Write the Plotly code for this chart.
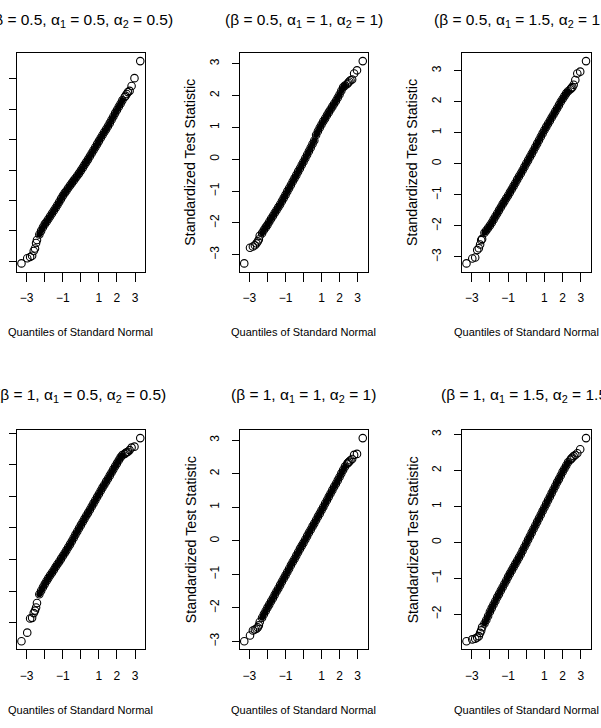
import plotly.graph_objects as go

# ---------------- data ----------------
panel_titles = [
    "(β = 0.5, α<sub>1</sub> = 0.5, α<sub>2</sub> = 0.5)",
    "(β = 0.5, α<sub>1</sub> = 1, α<sub>2</sub> = 1)",
    "(β = 0.5, α<sub>1</sub> = 1.5, α<sub>2</sub> = 1.5)",
    "(β = 1, α<sub>1</sub> = 0.5, α<sub>2</sub> = 0.5)",
    "(β = 1, α<sub>1</sub> = 1, α<sub>2</sub> = 1)",
    "(β = 1, α<sub>1</sub> = 1.5, α<sub>2</sub> = 1.5)",
]
x_label = "Quantiles of Standard Normal"
y_label = "Standardized Test Statistic"

# theoretical normal quantiles (x positions)
tail_lo_q = [-3.29, -2.97, -2.81, -2.70, -2.61, -2.54, -2.48, -2.43]
tail_hi_q = [2.43, 2.48, 2.54, 2.61, 2.70, 2.81, 2.97, 3.29]
body_q = [-2.3, -2.2, -2.1, -2.0, -1.9, -1.8, -1.7, -1.6, -1.5, -1.4, -1.3, -1.2,
          -1.1, -1.0, -0.9, -0.8, -0.7, -0.6, -0.5, -0.4, -0.3, -0.2, -0.1, 0.0,
          0.1, 0.2, 0.3, 0.4, 0.5, 0.6, 0.7, 0.8, 0.9, 1.0, 1.1, 1.2, 1.3, 1.4,
          1.5, 1.6, 1.7, 1.8, 1.9, 2.0, 2.1, 2.2, 2.3]

# sample (standardized statistic) values
p1_lo = [-3.07, -2.90, -2.86, -2.82, -2.66, -2.58, -2.40, -2.30]
p1_body = [-2.12, -2.00, -1.88, -1.78, -1.70, -1.61, -1.52, -1.43, -1.34, -1.25, -1.15, -1.05,
           -0.95, -0.85, -0.76, -0.68, -0.59, -0.51, -0.43, -0.35, -0.27, -0.19, -0.11, -0.02,
           0.07, 0.17, 0.26, 0.35, 0.45, 0.55, 0.65, 0.75, 0.85, 0.95, 1.05, 1.15, 1.25, 1.34,
           1.44, 1.54, 1.65, 1.76, 1.87, 1.97, 2.08, 2.18, 2.29]
p1_hi = [2.40, 2.44, 2.50, 2.56, 2.60, 2.76, 3.02, 3.58]

p2_lo = [-3.27, -2.78, -2.74, -2.70, -2.64, -2.58, -2.52, -2.40]
p2_body = [-2.32, -2.22, -2.14, -2.06, -1.96, -1.87, -1.78, -1.69, -1.60, -1.51, -1.42, -1.32,
           -1.22, -1.12, -1.01, -0.91, -0.81, -0.70, -0.60, -0.50, -0.39, -0.29, -0.18, -0.08,
           0.03, 0.14, 0.25, 0.36, 0.48, 0.59, 0.76, 0.88, 0.99, 1.09, 1.19, 1.28, 1.38, 1.47,
           1.56, 1.65, 1.74, 1.83, 1.93, 2.03, 2.15, 2.26, 2.31]
p2_hi = [2.36, 2.40, 2.44, 2.48, 2.50, 2.69, 2.79, 3.08]

p3_lo = [-3.21, -3.05, -3.02, -2.78, -2.72, -2.60, -2.46, -2.42]
p3_body = [-2.22, -2.15, -2.07, -1.99, -1.90, -1.80, -1.70, -1.60, -1.50, -1.40, -1.30, -1.21,
           -1.11, -1.02, -0.92, -0.82, -0.72, -0.62, -0.51, -0.41, -0.31, -0.21, -0.10, 0.01,
           0.11, 0.22, 0.32, 0.43, 0.54, 0.65, 0.76, 0.87, 0.98, 1.09, 1.19, 1.29, 1.39, 1.49,
           1.59, 1.69, 1.79, 1.89, 2.00, 2.09, 2.18, 2.27, 2.34]
p3_hi = [2.40, 2.44, 2.47, 2.55, 2.70, 2.91, 2.97, 3.31]

p4_lo = [-3.59, -3.32, -2.87, -2.85, -2.70, -2.62, -2.52, -2.38]
p4_body = [-2.10, -1.99, -1.88, -1.78, -1.68, -1.59, -1.50, -1.42, -1.33, -1.24, -1.15, -1.07,
           -0.98, -0.89, -0.80, -0.71, -0.61, -0.52, -0.42, -0.32, -0.21, -0.11, -0.01, 0.09,
           0.19, 0.29, 0.39, 0.48, 0.58, 0.68, 0.78, 0.88, 0.98, 1.08, 1.18, 1.28, 1.37, 1.47,
           1.56, 1.66, 1.76, 1.86, 1.96, 2.05, 2.15, 2.24, 2.31]
p4_hi = [2.35, 2.38, 2.40, 2.42, 2.47, 2.55, 2.58, 2.85]

p5_lo = [-2.99, -2.82, -2.67, -2.64, -2.62, -2.58, -2.52, -2.42]
p5_body = [-2.29, -2.19, -2.09, -1.99, -1.90, -1.80, -1.71, -1.61, -1.51, -1.42, -1.32, -1.22,
           -1.12, -1.03, -0.93, -0.83, -0.73, -0.63, -0.54, -0.44, -0.34, -0.24, -0.15, -0.06,
           0.04, 0.14, 0.24, 0.33, 0.43, 0.52, 0.62, 0.72, 0.81, 0.91, 1.01, 1.11, 1.21, 1.31,
           1.41, 1.51, 1.61, 1.70, 1.80, 1.90, 2.01, 2.11, 2.21]
p5_hi = [2.30, 2.33, 2.36, 2.40, 2.44, 2.56, 2.59, 3.06]

p6_lo = [-2.75, -2.70, -2.68, -2.65, -2.61, -2.52, -2.45, -2.36]
p6_body = [-2.26, -2.16, -2.05, -1.93, -1.83, -1.73, -1.63, -1.53, -1.44, -1.34, -1.25, -1.15,
           -1.06, -0.96, -0.87, -0.78, -0.69, -0.60, -0.51, -0.42, -0.33, -0.23, -0.13, -0.03,
           0.07, 0.17, 0.27, 0.37, 0.47, 0.57, 0.67, 0.77, 0.87, 0.97, 1.07, 1.17, 1.27, 1.37,
           1.47, 1.57, 1.67, 1.76, 1.86, 1.96, 2.05, 2.14, 2.23]
p6_hi = [2.30, 2.33, 2.36, 2.40, 2.43, 2.48, 2.59, 2.90]

panels = [
    (p1_lo, p1_body, p1_hi),
    (p2_lo, p2_body, p2_hi),
    (p3_lo, p3_body, p3_hi),
    (p4_lo, p4_body, p4_hi),
    (p5_lo, p5_body, p5_hi),
    (p6_lo, p6_body, p6_hi),
]

x_tickvals = [-3, -2, -1, 0, 1, 2, 3]
x_ticktext = ["\u22123", "", "\u22121", "", "1", "2", "3"]
y_tickvals = [-3, -2, -1, 0, 1, 2, 3]
y_ticktext = ["\u22123", "\u22122", "\u22121", "0", "1", "2", "3"]

# ---------------- layout geometry (pixels) ----------------
W, H = 601, 728
col_px = [(16.7, 145.0), (239.5, 367.5), (461.7, 590.8)]
row_px = [(53.0, 271.5), (430.0, 649.3)]
title_y_px = [20.0, 396.0]
FONT = "Liberation Sans, Arial, sans-serif"


def fx(X):
    return X / W


def fy(Y):
    return 1 - Y / H


def padded(vals):
    lo, hi = min(vals), max(vals)
    d = (hi - lo) * 0.04
    return [lo - d, hi + d]


fig = go.Figure()
annotations = []

for i, (lo, body, hi) in enumerate(panels):
    r, c = divmod(i, 3)
    ax = "" if i == 0 else str(i + 1)
    xref, yref = "x" + ax, "y" + ax
    xs = tail_lo_q + body_q + tail_hi_q
    ys = lo + body + hi

    # solid core of the dense middle of the cloud
    fig.add_trace(go.Scatter(
        x=body_q, y=body, mode="markers", xaxis=xref, yaxis=yref,
        marker=dict(symbol="circle", size=6, color="black"),
        showlegend=False, hoverinfo="skip"))
    fig.add_trace(go.Scatter(
        x=xs, y=ys, mode="markers", xaxis=xref, yaxis=yref,
        marker=dict(symbol="circle-open", size=7.5, color="black",
                    line=dict(width=1.1, color="black")),
        showlegend=False))

    xr = padded(xs)
    yr = padded(ys)
    x0, x1 = col_px[c]
    y0, y1 = row_px[r]
    yt = [v for v in y_tickvals if yr[0] <= v <= yr[1]]
    ytt = [y_ticktext[y_tickvals.index(v)] for v in yt]

    fig.layout["xaxis" + ax] = dict(
        domain=[fx(x0), fx(x1)], range=xr, anchor=yref, automargin=False,
        showline=True, mirror=True, linecolor="black", linewidth=1,
        ticks="outside", ticklen=9, tickwidth=1, tickcolor="black",
        tickvals=x_tickvals, ticktext=x_ticktext, ticklabelstandoff=6,
        showgrid=False, zeroline=False,
        tickfont=dict(family=FONT, size=12, color="black"))
    fig.layout["yaxis" + ax] = dict(
        domain=[fy(y1), fy(y0)], range=yr, anchor=xref, automargin=False,
        showline=True, mirror=True, linecolor="black", linewidth=1,
        ticks="outside", ticklen=7, tickwidth=1, tickcolor="black",
        tickvals=yt, ticktext=ytt, tickangle=-90, ticklabelstandoff=8,
        showgrid=False, zeroline=False,
        tickfont=dict(family=FONT, size=12, color="black"))

    cx = (x0 + x1) / 2
    cy = (y0 + y1) / 2
    annotations.append(dict(
        text=panel_titles[i], x=fx(cx), y=fy(title_y_px[r]), xref="paper", yref="paper",
        xanchor="center", yanchor="middle", showarrow=False,
        font=dict(family=FONT, size=15.5, color="black")))
    annotations.append(dict(
        text=x_label, x=fx(cx), y=fy(y1 + 61), xref="paper", yref="paper",
        xanchor="center", yanchor="middle", showarrow=False,
        font=dict(family=FONT, size=11, color="black")))
    annotations.append(dict(
        text=y_label, x=fx(x0 - 49), y=fy(cy), xref="paper", yref="paper",
        xanchor="center", yanchor="middle", showarrow=False, textangle=-90,
        font=dict(family=FONT, size=14.2, color="black")))

fig.update_layout(
    width=W, height=H, margin=dict(l=0, r=0, t=0, b=0, autoexpand=False),
    paper_bgcolor="white", plot_bgcolor="white",
    annotations=annotations, showlegend=False)

fig.write_html("out.html")
